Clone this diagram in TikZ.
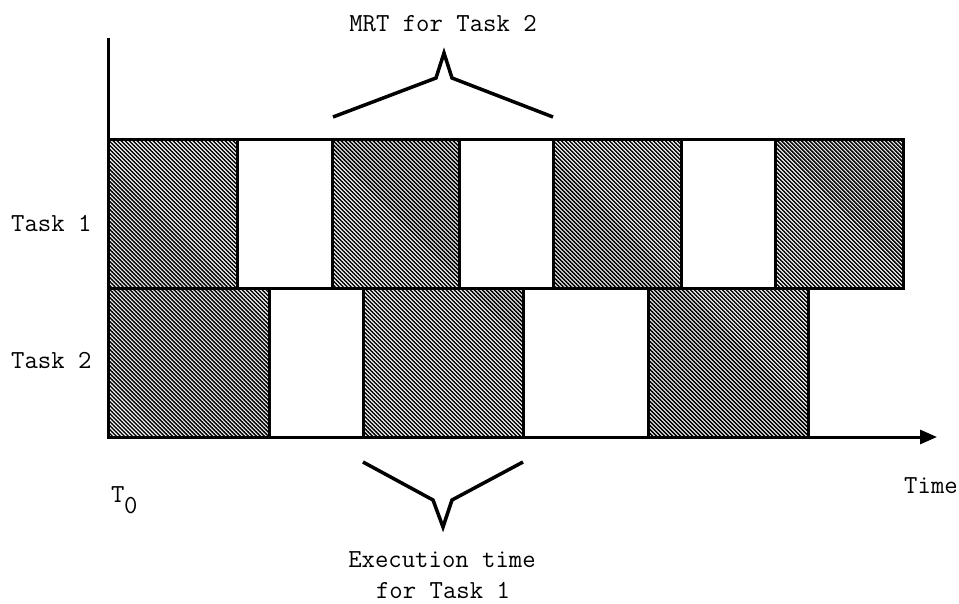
\documentclass[tikz,border=0pt]{standalone}
\usepackage{fontspec}
\usetikzlibrary{patterns.meta,arrows.meta}

\begin{document}
\begin{tikzpicture}[x=1pt,y=-1pt,
  lbl/.style={font=\ttfamily\fontsize{26}{30}\selectfont, inner sep=0pt},
  busy/.style={draw, line width=3pt,
    pattern={Lines[angle=-45,distance=2.83pt,line width=1.5pt]}},
  edge/.style={line width=3pt},
  brace/.style={line width=3.5pt, line join=miter}]
\useasboundingbox (0,0) rectangle (959,604);

% Task 1 busy intervals
\path[busy] (108,140) rectangle (237,289);
\path[busy] (332,140) rectangle (459,289);
\path[busy] (553,140) rectangle (681,289);
\path[busy] (775,140) rectangle (903,289);

% Task 2 busy intervals
\path[busy] (108,289) rectangle (269,437);
\path[busy] (363,289) rectangle (523,437);
\path[busy] (648,289) rectangle (808,437);

% row boundaries
\draw[edge] (108,140) -- (903,140);
\draw[edge] (108,289) -- (903,289);

% axes
\coordinate (origin) at (108,437);
\coordinate (ytop) at (108,38);
\coordinate (xend) at (937,437);
\draw[edge] (origin) -- (ytop);
\draw[edge, -{Triangle[length=17pt,width=14pt]}] (origin) -- (xend);

% braces
\coordinate (tb1) at (333,117);
\coordinate (tb2) at (436,78);
\coordinate (tb3) at (444,53);
\coordinate (tb4) at (452,78);
\coordinate (tb5) at (553,117);
\draw[brace] (tb1) -- (tb2) -- (tb3) -- (tb4) -- (tb5);

\coordinate (bb1) at (363,462);
\coordinate (bb2) at (433,500);
\coordinate (bb3) at (443,527);
\coordinate (bb4) at (452,500);
\coordinate (bb5) at (523,462);
\draw[brace] (bb1) -- (bb2) -- (bb3) -- (bb4) -- (bb5);

% labels (placed by baseline)
\node[lbl, anchor=base] (mrt) at (443,32) {MRT for Task 2};
\node[lbl, anchor=base west] (t1) at (11,232) {Task 1};
\node[lbl, anchor=base west] (t2) at (11,368) {Task 2};
\node[lbl, anchor=base west] (tT) at (111,502) {T};
\node[lbl, anchor=base west] (tz) at (124,513) {0};
\node[lbl, anchor=base east] (time) at (958,493) {Time};
\node[lbl, anchor=base] (ex1) at (442,567) {Execution time};
\node[lbl, anchor=base] (ex2) at (443,598) {for Task 1};
\end{tikzpicture}
\end{document}
